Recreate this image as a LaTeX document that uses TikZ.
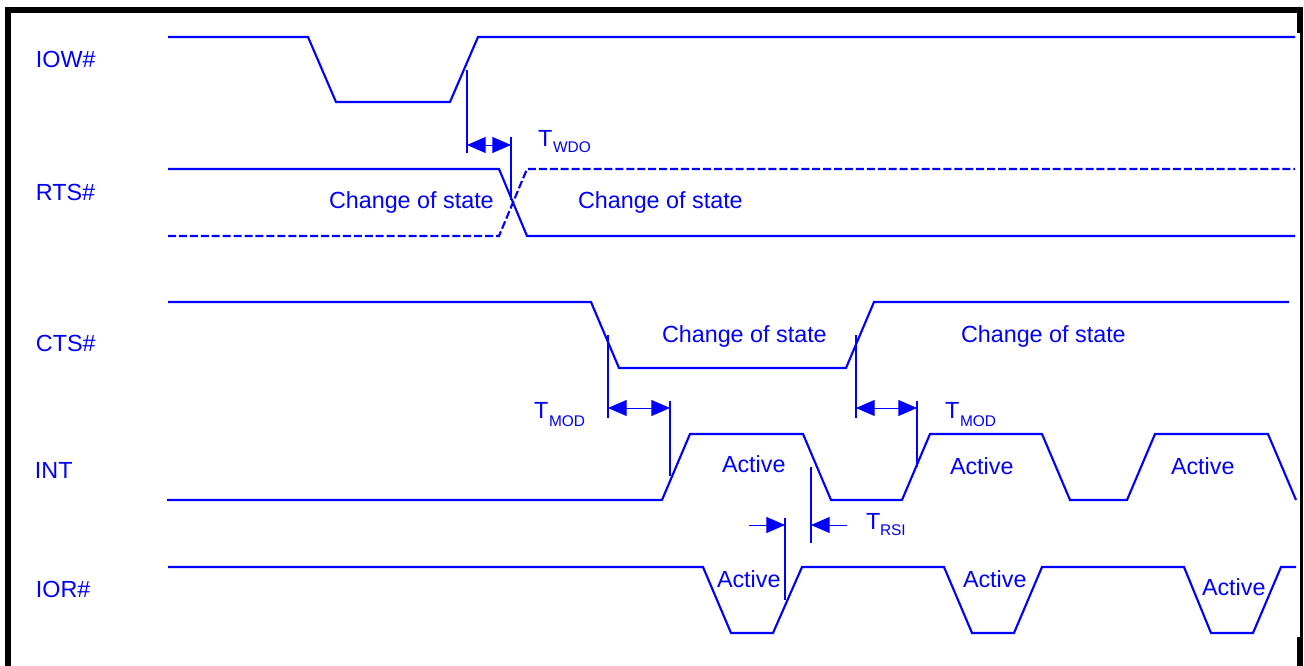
\documentclass[tikz,border=0pt]{standalone}
\usepackage{fontspec}
\setmainfont{Liberation Sans}
\usetikzlibrary{arrows.meta}
\definecolor{sig}{RGB}{0,0,255}
\newcommand{\bigT}{\fontsize{17.5}{20}\selectfont}
\newcommand{\subT}{\fontsize{11.6}{14}\selectfont}
\tikzset{
  x=0.75pt,y=-0.75pt,
  wave/.style={draw=sig,line width=1.6pt,line join=miter},
  wavedash/.style={wave,dash pattern=on 6pt off 2.2pt},
  ext/.style={draw=sig,line width=0.9pt},
  dim/.style={draw=sig,line width=0.7pt},
  dimtip/.style={-{Triangle[length=14pt,width=12pt]}},
  lab/.style={anchor=base west,inner sep=0pt,outer sep=0pt,text=sig,font=\bigT},
  sublab/.style={anchor=base west,inner sep=0pt,outer sep=0pt,text=sig,font=\subT},
  frame/.style={fill=black,draw=none}
}
\begin{document}
\begin{tikzpicture}
\useasboundingbox (0,0) rectangle (1304,666);
% frame
\fill[frame] (5,7) rectangle (1303,13);
\fill[frame] (5,7) rectangle (11,666);
\fill[frame] (1297,7) rectangle (1303,33);
\fill[frame] (1300,33) rectangle (1303,637);
\fill[frame] (1297,637) rectangle (1303,666);
% waveforms
\draw[wave] (168,37)--(308,37)--(336,102)--(450,102)--(478,37)--(1295,37);
\draw[wave] (168,169)--(499,169)--(527,236)--(1295,236);
\draw[wavedash] (168,236)--(499,236)--(527,169)--(1295,169);
\draw[wave] (168,302)--(591,302)--(619,368)--(846,368)--(874,302)--(1289,302);
\draw[wave] (167,500)--(662,500)--(690,434)--(803,434)--(831,500)--(902,500)--(930,434)--(1042,434)--(1070,500)--(1127,500)--(1155,434)--(1268,434)--(1296,500);
\draw[wave] (168,567)--(703,567)--(731,633)--(773,633)--(802,567)--(944,567)--(972,633)--(1014,633)--(1042,567)--(1184,567)--(1211,633)--(1253,633)--(1281,567)--(1296,567);
% extension lines, with named points for the dimension arrows
\coordinate (w1) at (467,145); \coordinate (w2) at (511,145);
\coordinate (m1) at (608,408); \coordinate (m2) at (670,408);
\coordinate (n1) at (856,408); \coordinate (n2) at (917,408);
\coordinate (r1) at (785,525); \coordinate (r2) at (811,525);
\coordinate (r1f) at (749,525); \coordinate (r2f) at (847,525);
\coordinate (wmid) at (489,145); \coordinate (mmid) at (639,408); \coordinate (nmid) at (886,408);
\draw[ext] (467,70)--(467,153);
\draw[ext] (511,137)--(511,200);
\draw[ext] (608,335)--(608,418);
\draw[ext] (670,401)--(670,476);
\draw[ext] (856,335)--(856,418);
\draw[ext] (917,401)--(917,467);
\draw[ext] (785,518)--(785,600);
\draw[ext] (811,467)--(811,543);
% dimension arrows
\draw[dim,dimtip] (wmid)--(w1); \draw[dim,dimtip] (wmid)--(w2);
\draw[dim,dimtip] (mmid)--(m1); \draw[dim,dimtip] (mmid)--(m2);
\draw[dim,dimtip] (nmid)--(n1); \draw[dim,dimtip] (nmid)--(n2);
\draw[dim,dimtip] (r1f)--(r1); \draw[dim,dimtip] (r2f)--(r2);
% signal names
\node[lab] (iow) at (36,68) {IOW\#};
\node[lab] (rts) at (36,201) {RTS\#};
\node[lab] (cts) at (36,352) {CTS\#};
\node[lab] (int) at (35,479) {INT};
\node[lab] (ior) at (36,597) {IOR\#};
% state labels
\node[lab] (c1) at (329,209) {Change of state};
\node[lab] (c2) at (578,209) {Change of state};
\node[lab] (c3) at (662,343) {Change of state};
\node[lab] (c4) at (961,343) {Change of state};
\node[lab] (a1) at (722,473) {Active};
\node[lab] (a2) at (950,475) {Active};
\node[lab] (a3) at (1171,475) {Active};
\node[lab] (a4) at (717,587) {Active};
\node[lab] (a5) at (963,587) {Active};
\node[lab] (a6) at (1202,595) {Active};
% timing labels
\node[lab] (t1) at (538,147) {T};
\node[sublab] (s1) at (553,153) {WDO};
\node[lab] (t2) at (534,419) {T};
\node[sublab] (s2) at (549,427) {MOD};
\node[lab] (t3) at (945,419) {T};
\node[sublab] (s3) at (960,427) {MOD};
\node[lab] (t4) at (866,530) {T};
\node[sublab] (s4) at (880,536) {RSI};
\end{tikzpicture}
\end{document}
